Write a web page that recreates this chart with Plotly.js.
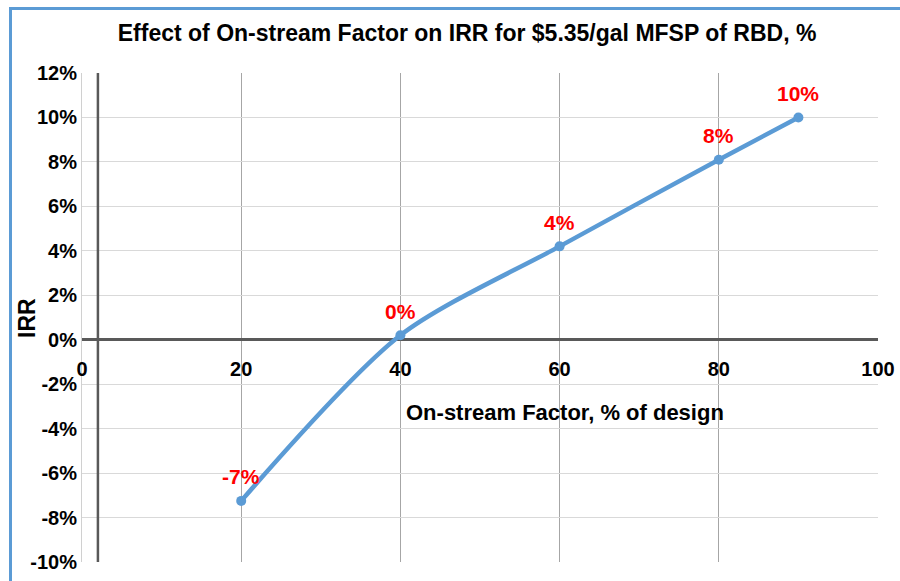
<!DOCTYPE html>
<html>
<head>
<meta charset="utf-8">
<script src="https://cdn.plot.ly/plotly-3.0.1.min.js"></script>
<style>
  html, body { margin: 0; padding: 0; background: #fff; overflow: hidden; }
  #wrap { position: relative; width: 900px; height: 581px; }
  #chart { width: 900px; height: 581px; }
  #frame { position: absolute; left: 9px; top: 7px; width: 1000px; height: 1000px;
           border-left: 3px solid #5b9bd5; border-top: 3px solid #5b9bd5; pointer-events: none; }
</style>
</head>
<body>
<div id="wrap"><div id="chart"></div><div id="frame"></div></div>
<script>
// Data
const onStream = [20, 40, 60, 80, 90];          // On-stream factor, % of design
const irr = [-7.25, 0.2, 4.2, 8.1, 10.0];        // IRR, %
const pointLabels = ['-7%', '0%', '4%', '8%', '10%'];
const xTicks = [0, 20, 40, 60, 80, 100];
const yTicks = [-10, -8, -6, -4, -2, 0, 2, 4, 6, 8, 10, 12];
const yTickText = yTicks.map(v => v + '%');
const valueAxisCrossesAt = 2;

const FONT = 'Arial, "Liberation Sans", sans-serif';

const trace = {
  x: onStream, y: irr, type: 'scatter', mode: 'lines+markers',
  line: { color: '#5b9bd5', width: 4.5, shape: 'spline', smoothing: 0.8 },
  marker: { color: '#5b9bd5', size: 10 },
  hoverinfo: 'skip', cliponaxis: false
};

const labelAnns = onStream.map((x, i) => ({
  x: x, y: irr[i], xref: 'x', yref: 'y', text: pointLabels[i], showarrow: false,
  yshift: 24, font: { family: FONT, size: 21, color: '#ff0000', weight: 'bold' }
}));

const layout = {
  width: 900, height: 581,
  margin: { l: 82, r: 22, t: 73, b: 19 },
  paper_bgcolor: '#ffffff', plot_bgcolor: '#ffffff',
  showlegend: false,
  title: {
    text: '<b>Effect of On-stream Factor on IRR for $5.35/gal MFSP of RBD, %</b>',
    x: 0.519, xref: 'container', xanchor: 'center',
    y: 0.943, yref: 'container', yanchor: 'middle',
    font: { family: FONT, size: 23, color: '#000000' }
  },
  xaxis: {
    range: [0, 100], tickvals: xTicks, ticktext: xTicks.map(String),
    anchor: 'free', position: 10 / 22,
    showgrid: true, gridcolor: '#a6a6a6', gridwidth: 1.3,
    zeroline: false, showline: false,
    ticks: 'outside', ticklen: 11, tickcolor: 'rgba(0,0,0,0)',
    tickfont: { family: FONT, size: 20, color: '#000000', weight: 'bold' }
  },
  yaxis: {
    range: [-10, 12], tickvals: yTicks, ticktext: yTickText,
    showgrid: true, gridcolor: '#d9d9d9', gridwidth: 1,
    zeroline: true, zerolinecolor: '#595959', zerolinewidth: 2.5,
    showline: true, linecolor: '#d0d0d0', linewidth: 1,
    ticks: '',
    tickfont: { family: FONT, size: 20, color: '#000000', weight: 'bold' }
  },
  shapes: [
    { type: 'line', xref: 'x', yref: 'paper', x0: valueAxisCrossesAt, x1: valueAxisCrossesAt, y0: 0, y1: 1,
      line: { color: '#595959', width: 2.5 }, layer: 'above' }
  ],
  annotations: labelAnns.concat([
    { text: '<b>On-stream Factor, % of design</b>', xref: 'paper', yref: 'paper',
      x: (565 - 82) / 796, y: (562 - 412) / 489, showarrow: false, xanchor: 'center', yanchor: 'middle',
      font: { family: FONT, size: 22, color: '#000000' } },
    { text: '<b>IRR</b>', xref: 'paper', yref: 'paper', textangle: -90,
      x: (27 - 82) / 796, y: (562 - 318) / 489, showarrow: false, xanchor: 'center', yanchor: 'middle',
      font: { family: FONT, size: 23, color: '#000000' } }
  ])
};

Plotly.newPlot('chart', [trace], layout, { displayModeBar: false, staticPlot: true });
</script>
</body>
</html>
